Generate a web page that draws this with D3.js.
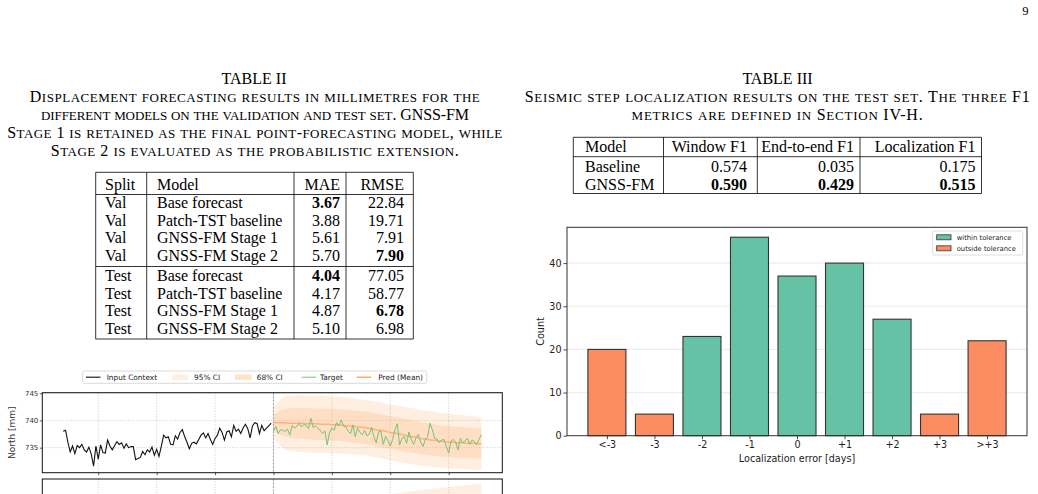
<!DOCTYPE html>
<html><head><meta charset="utf-8">
<script src="https://cdn.jsdelivr.net/npm/d3@7"></script>
<style>body{margin:0;background:#fff} svg{display:block}</style>
</head><body><svg id="c" width="1038" height="494"></svg>
<script>
// ---------------- data ----------------
const pageNumber = "9";

const t2Title = "TABLE II";
const t2Caption = [
  "Displacement forecasting results in millimetres for the",
  "different models on the validation and test set. GNSS-FM",
  "Stage 1 is retained as the final point-forecasting model, while",
  "Stage 2 is evaluated as the probabilistic extension."
];
const t2Header = ["Split", "Model", "MAE", "RMSE"];
const t2Split = ["Val", "Val", "Val", "Val", "Test", "Test", "Test", "Test"];
const t2Model = ["Base forecast", "Patch-TST baseline", "GNSS-FM Stage 1", "GNSS-FM Stage 2",
                 "Base forecast", "Patch-TST baseline", "GNSS-FM Stage 1", "GNSS-FM Stage 2"];
const t2MAE = [3.67, 3.88, 5.61, 5.70, 4.04, 4.17, 4.87, 5.10];
const t2RMSE = [22.84, 19.71, 7.91, 7.90, 77.05, 58.77, 6.78, 6.98];

const t3Title = "TABLE III";
const t3Caption = [
  "Seismic step localization results on the test set. The three F1",
  "metrics are defined in Section IV-H."
];
const t3Header = ["Model", "Window F1", "End-to-end F1", "Localization F1"];
const t3Model = ["Baseline", "GNSS-FM"];
const t3Window = [0.574, 0.590];
const t3E2E = [0.035, 0.429];
const t3Loc = [0.175, 0.515];

const errCategories = ["<-3", "-3", "-2", "-1", "0", "+1", "+2", "+3", ">+3"];
const errCounts = [20, 5, 23, 46, 37, 40, 27, 5, 22];
const errWithin = [false, false, true, true, true, true, true, false, false];
const countTicks = [0, 10, 20, 30, 40];
const barLegend = ["within tolerance", "outside tolerance"];

const contextNorth = [
  738.0, 738.2, 736.0, 734.2, 735.3, 733.9, 735.4, 735.0, 735.6, 734.6,
  734.2, 735.1, 733.8, 731.6, 735.3, 732.9, 735.5, 734.1, 734.0, 736.4,
  735.3, 734.6, 735.4, 736.1, 735.6, 735.9, 734.9, 735.7, 735.0, 735.2,
  735.2, 732.8, 733.0, 733.2, 734.3, 733.7, 734.6, 734.2, 735.1, 733.6,
  734.7, 733.4, 735.3, 737.3, 736.8, 737.0, 735.6, 735.5, 737.2, 736.6,
  737.8, 738.3, 737.0, 736.0, 734.8, 735.8, 736.0, 735.7, 736.5, 737.3,
  737.7, 736.8, 737.6, 736.5, 735.6, 736.7, 737.3, 738.6, 737.8, 736.4,
  737.9, 738.1, 737.0, 739.1, 738.0, 738.4, 737.6, 738.6, 739.3, 738.5,
  736.8, 739.0, 739.6, 739.4, 737.6, 739.1, 738.1, 738.6, 739.0, 739.5
];
const targetNorth = [
  738.0, 738.9, 737.6, 738.3, 738.2, 738.0, 738.4, 737.3, 739.1, 738.6,
  738.9, 739.5, 738.8, 739.3, 739.1, 738.5, 740.4, 738.7, 739.0, 738.6,
  738.2, 737.6, 738.1, 735.5, 737.8, 738.6, 738.2, 739.6, 739.0, 740.1,
  739.0, 738.8, 738.0, 737.6, 739.2, 737.0, 738.6, 737.8, 737.4, 738.2,
  737.2, 737.5, 738.7, 737.0, 735.9, 737.9, 738.0, 735.6, 737.1, 736.3,
  735.3, 736.5, 738.3, 739.4, 735.5, 736.7, 737.0, 735.8, 737.9, 736.5,
  735.6, 736.8, 737.4, 736.0, 735.2, 736.5, 737.0, 739.5, 738.3, 736.7,
  736.6, 735.9, 736.4, 736.5, 735.2, 734.0, 736.2, 736.5, 736.0, 734.6,
  736.7, 735.9, 736.2, 736.7, 735.6, 736.4, 736.1, 735.6, 736.5, 737.4
];
const predMeanNorth = [
  739.6, 739.6, 739.6, 739.6, 739.6, 739.6, 739.5, 739.5, 739.5, 739.5,
  739.5, 739.5, 739.5, 739.5, 739.4, 739.4, 739.4, 739.4, 739.4, 739.4,
  739.3, 739.3, 739.3, 739.3, 739.3, 739.2, 739.2, 739.2, 739.1, 739.1,
  739.1, 739.0, 739.0, 739.0, 738.9, 738.9, 738.8, 738.8, 738.7, 738.7,
  738.6, 738.5, 738.5, 738.4, 738.3, 738.2, 738.2, 738.1, 738.0, 737.9,
  737.8, 737.7, 737.7, 737.6, 737.5, 737.4, 737.3, 737.2, 737.1, 737.0,
  737.0, 736.9, 736.8, 736.7, 736.6, 736.6, 736.5, 736.4, 736.4, 736.3,
  736.3, 736.2, 736.2, 736.1, 736.1, 736.0, 736.0, 736.0, 735.9, 735.9,
  735.9, 735.9, 735.8, 735.8, 735.8, 735.8, 735.8, 735.7, 735.7, 735.7
];
const contextStartDay = 0;
const forecastStartDay = 90;
const bandDays = [90, 92, 94, 96, 100, 110, 120, 130, 140, 150, 160, 170, 179];
const ci95HighNorth = [742.3, 743.4, 744.2, 744.6, 744.7, 744.6, 744.3, 743.7, 743.0, 742.2, 741.5, 741.0, 740.6];
const ci95LowNorth  = [736.9, 735.8, 735.0, 734.5, 734.3, 734.0, 733.9, 733.5, 732.7, 731.9, 731.4, 731.1, 730.9];
const ci68HighNorth = [741.0, 741.6, 742.0, 742.2, 742.3, 742.2, 742.0, 741.6, 740.8, 740.0, 739.2, 738.8, 738.5];
const ci68LowNorth  = [738.2, 737.6, 737.2, 736.9, 736.7, 736.4, 736.2, 735.6, 734.8, 734.0, 733.4, 733.1, 733.0];
const ci95HighPanel2 = [2.2, 2.8, 3.2, 3.5, 3.8, 4.4, 5.0, 5.6, 6.2, 7.0, 7.7, 8.3, 8.9];
const ci95LowPanel2  = [-2.2, -2.8, -3.2, -3.5, -3.8, -4.4, -5.0, -5.6, -6.2, -7.0, -7.7, -8.3, -8.9];
const ci68HighPanel2 = [1.0, 1.3, 1.5, 1.7, 1.9, 2.2, 2.6, 3.0, 3.4, 3.9, 4.4, 4.9, 5.3];
const ci68LowPanel2  = [-1.0, -1.3, -1.5, -1.7, -1.9, -2.2, -2.6, -3.0, -3.4, -3.9, -4.4, -4.9, -5.3];
const dayTicks = [15, 40, 65, 90, 115, 140, 165];
const northTicks = [735, 740, 745];
const tsLegend = ["Input Context", "95% CI", "68% CI", "Target", "Pred (Mean)"];

// ---------------- drawing ----------------
const svg = d3.select("#c");
svg.append("rect").attr("width", 1038).attr("height", 494).attr("fill", "#fff");
const serif = "'Liberation Serif','Times New Roman',serif";
const sans = "'DejaVu Sans',sans-serif";

function txt(parent, x, y, s, o = {}) {
  const t = parent.append("text").attr("x", x).attr("y", y).text(s)
    .style("font-family", o.family || serif).style("font-size", (o.size || 16) + "px")
    .attr("fill", o.fill || "#000").attr("text-anchor", o.anchor || "start");
  if (o.bold) t.style("font-weight", "bold");
  return t;
}
// caption line in small capitals, stretched to the measured line width
function scLine(x, y, s, targetW) {
  const t = svg.append("text").attr("x", x).attr("y", y).attr("text-anchor", "middle")
    .style("font-family", serif).style("font-size", "16px").attr("fill", "#000");
  const runs = s.match(/[a-z]+|[^a-z]+/g);
  runs.forEach(r => {
    const lower = /^[a-z]/.test(r);
    t.append("tspan").style("font-size", lower ? "13px" : "16px").text(lower ? r.toUpperCase() : r);
  });
  const w = t.node().getComputedTextLength();
  const nch = s.length;
  if (targetW && nch > 1) t.style("letter-spacing", ((targetW - w) / (nch - 1)) + "px");
  return t;
}
function hline(x1, x2, y) {
  svg.append("line").attr("x1", x1).attr("x2", x2).attr("y1", y).attr("y2", y)
    .attr("stroke", "#000").attr("stroke-width", 0.8);
}
function vline(x, y1, y2) {
  svg.append("line").attr("x1", x).attr("x2", x).attr("y1", y1).attr("y2", y2)
    .attr("stroke", "#000").attr("stroke-width", 0.8);
}

txt(svg, 1028.5, 15, pageNumber, {anchor: "end", size: 12.5});

// ---- Table II ----
const t2Widths = [450, 428, 495, 408];
txt(svg, 254, 84, t2Title, {anchor: "middle"});
t2Caption.forEach((l, i) => scLine(255, 102 + 18 * i, l, t2Widths[i]));
{
  const cols = [95.7, 146.7, 294, 346, 413.3];
  const top = 172.3, headLine = 194.5, sep = 266.5, bottom = 339;
  hline(cols[0], cols[4], top); hline(cols[0], cols[4], headLine);
  hline(cols[0], cols[4], sep); hline(cols[0], cols[4], bottom);
  cols.forEach(c => vline(c, top, bottom));
  const headBase = 190;
  txt(svg, 105, headBase, t2Header[0]);
  txt(svg, 157, headBase, t2Header[1]);
  txt(svg, 340, headBase, t2Header[2], {anchor: "end"});
  txt(svg, 404, headBase, t2Header[3], {anchor: "end"});
  const rowBase = [208, 225.6, 243.2, 260.8, 281, 298.5, 316, 333.5];
  const minOf = (arr, sp) => d3.min(arr.filter((v, i) => t2Split[i] === sp));
  t2Split.forEach((sp, i) => {
    const y = rowBase[i];
    txt(svg, 105, y, sp);
    txt(svg, 157, y, t2Model[i]);
    txt(svg, 340, y, t2MAE[i].toFixed(2), {anchor: "end", bold: t2MAE[i] === minOf(t2MAE, sp)});
    txt(svg, 404, y, t2RMSE[i].toFixed(2), {anchor: "end", bold: t2RMSE[i] === minOf(t2RMSE, sp)});
  });
}

// ---- Table III ----
const t3Widths = [505, 291];
txt(svg, 777.5, 84, t3Title, {anchor: "middle"});
t3Caption.forEach((l, i) => scLine(777.5, 102 + 18 * i, l, t3Widths[i]));
{
  const cols = [573.3, 663.5, 757.3, 860, 981.5];
  const top = 137.3, headLine = 156.7, bottom = 193.5;
  hline(cols[0], cols[4], top); hline(cols[0], cols[4], headLine); hline(cols[0], cols[4], bottom);
  cols.forEach(c => vline(c, top, bottom));
  const rights = [null, 747, 854, 975.5];
  const headBase = 152.3;
  txt(svg, 585, headBase, t3Header[0]);
  [1, 2, 3].forEach(k => txt(svg, rights[k], headBase, t3Header[k], {anchor: "end"}));
  const rowBase = [171.7, 190];
  const colsData = [t3Window, t3E2E, t3Loc];
  t3Model.forEach((m, i) => {
    txt(svg, 585, rowBase[i], m);
    colsData.forEach((arr, k) => txt(svg, rights[k + 1], rowBase[i], arr[i].toFixed(3),
      {anchor: "end", bold: arr[i] === d3.max(arr)}));
  });
}

// ---- Bar chart ----
{
  const L = 567, R = 1027, T = 227.3, B = 435.7;
  const n = errCategories.length;
  const bx = d3.scaleLinear().domain([-0.84, n - 1 + 0.84]).range([L, R]);
  const by = d3.scaleLinear().domain([0, 48.3]).range([B, T]);
  const g = svg.append("g");
  g.selectAll("line.grid").data(countTicks.filter(d => d > 0)).join("line")
    .attr("x1", L).attr("x2", R).attr("y1", d => by(d)).attr("y2", d => by(d))
    .attr("stroke", "#ededed").attr("stroke-width", 1.2);
  g.selectAll("rect.bar").data(errCounts).join("rect")
    .attr("x", (d, i) => bx(i - 0.4)).attr("width", bx(0.4) - bx(-0.4))
    .attr("y", d => by(d)).attr("height", d => by(0) - by(d))
    .attr("fill", (d, i) => errWithin[i] ? "#66c2a5" : "#fc8d62")
    .attr("stroke", "#333").attr("stroke-width", 1.1);
  g.append("rect").attr("x", L).attr("y", T).attr("width", R - L).attr("height", B - T)
    .attr("fill", "none").attr("stroke", "#333").attr("stroke-width", 1);
  const yAx = g.append("g").attr("transform", `translate(${L},0)`)
    .call(d3.axisLeft(by).tickValues(countTicks).tickSize(3.5).tickPadding(2));
  const xAx = g.append("g").attr("transform", `translate(0,${B})`)
    .call(d3.axisBottom(bx).tickValues(d3.range(n)).tickFormat(i => errCategories[i]).tickSize(3.5).tickPadding(2));
  [yAx, xAx].forEach(a => {
    a.select(".domain").remove();
    a.selectAll("line").attr("stroke", "#333").attr("stroke-width", 0.9);
    a.selectAll("text").style("font-family", sans).style("font-size", "9.6px").attr("fill", "#222");
  });
  txt(g, (L + R) / 2, 462, "Localization error [days]", {family: sans, size: 9.6, anchor: "middle", fill: "#222"});
  txt(g, 0, 0, "Count", {family: sans, size: 9.6, anchor: "middle", fill: "#222"})
    .attr("transform", `translate(543.5,${(T + B) / 2}) rotate(-90)`);
  const lg = g.append("g");
  lg.append("rect").attr("x", 932.7).attr("y", 231).attr("width", 90).attr("height", 24).attr("rx", 1.5)
    .attr("fill", "#fff").attr("stroke", "#d6d6d6").attr("stroke-width", 0.8);
  barLegend.forEach((s, i) => {
    const y = 237.3 + 11 * i;
    lg.append("rect").attr("x", 936.7).attr("y", y - 2.5).attr("width", 14.3).attr("height", 5)
      .attr("fill", i === 0 ? "#66c2a5" : "#fc8d62").attr("stroke", "#333").attr("stroke-width", 0.8);
    txt(lg, 956.7, y + 2.4, s, {family: sans, size: 6.8, fill: "#222"});
  });
}

// ---- Time series ----
{
  const L = 42.3, R = 502.3, T1 = 392.7, B1 = 472.7, T2 = 479, B2 = 559;
  const tx = d3.scaleLinear().domain([-8.95, 187.95]).range([L, R]);
  const ty = d3.scaleLinear().domain([730.4, 745.1]).range([B1, T1]);
  const ty2 = d3.scaleLinear().domain([-10, 10]).range([B2, T2]);
  const defs = svg.append("defs");
  defs.append("clipPath").attr("id", "cp1").append("rect").attr("x", L).attr("y", T1).attr("width", R - L).attr("height", B1 - T1);
  defs.append("clipPath").attr("id", "cp2").append("rect").attr("x", L).attr("y", T2).attr("width", R - L).attr("height", B2 - T2);
  const bandColor = "#fdae6b";
  const gridStyle = sel => sel.attr("stroke", "#b8b8b8").attr("stroke-width", 0.7).attr("stroke-dasharray", "1,1.6");

  [[T1, B1, "cp1"], [T2, B2, "cp2"]].forEach(([T, B, cp], pi) => {
    const g = svg.append("g");
    const inner = g.append("g").attr("clip-path", `url(#${cp})`);
    inner.selectAll("line.vg").data(dayTicks).join("line")
      .attr("x1", d => tx(d)).attr("x2", d => tx(d)).attr("y1", T).attr("y2", B).call(gridStyle);
    const yS = pi === 0 ? ty : ty2;
    if (pi === 0) {
      inner.selectAll("line.hg").data(northTicks).join("line")
        .attr("x1", L).attr("x2", R).attr("y1", d => ty(d)).attr("y2", d => ty(d)).call(gridStyle);
    }
    const hi95 = pi === 0 ? ci95HighNorth : ci95HighPanel2;
    const lo95 = pi === 0 ? ci95LowNorth : ci95LowPanel2;
    const hi68 = pi === 0 ? ci68HighNorth : ci68HighPanel2;
    const lo68 = pi === 0 ? ci68LowNorth : ci68LowPanel2;
    const area = (lo, hi) => d3.area().curve(d3.curveMonotoneX)
      .x(i => tx(bandDays[i])).y0(i => yS(lo[i])).y1(i => yS(hi[i]))(d3.range(bandDays.length));
    inner.append("path").attr("d", area(lo95, hi95)).attr("fill", bandColor).attr("fill-opacity", 0.2);
    inner.append("path").attr("d", area(lo68, hi68)).attr("fill", bandColor).attr("fill-opacity", 0.25);
    inner.append("line").attr("x1", tx(forecastStartDay)).attr("x2", tx(forecastStartDay)).attr("y1", T).attr("y2", B)
      .attr("stroke", "#8c8c8c").attr("stroke-width", 0.8).attr("stroke-dasharray", "2,1.5");
    if (pi === 0) {
      const line = d3.line().x(d => tx(d[0])).y(d => ty(d[1]));
      inner.append("path").attr("d", line(contextNorth.map((v, i) => [contextStartDay + i, v])))
        .attr("fill", "none").attr("stroke", "#111").attr("stroke-width", 1.1);
      inner.append("path").attr("d", line(predMeanNorth.map((v, i) => [forecastStartDay + i, v])))
        .attr("fill", "none").attr("stroke", "#fdae6b").attr("stroke-opacity", 0.9).attr("stroke-width", 1.5);
      inner.append("path").attr("d", line(targetNorth.map((v, i) => [forecastStartDay + i, v])))
        .attr("fill", "none").attr("stroke", "#74c476").attr("stroke-width", 1);
      const yAx = g.append("g").attr("transform", `translate(${L},0)`)
        .call(d3.axisLeft(ty).tickValues(northTicks).tickFormat(d3.format("d")).tickSize(2.5).tickPadding(1.5));
      yAx.select(".domain").remove();
      yAx.selectAll("line").attr("stroke", "#333").attr("stroke-width", 0.8);
      yAx.selectAll("text").style("font-family", sans).style("font-size", "7px").attr("fill", "#333");
      const xAx = g.append("g").attr("transform", `translate(0,${B})`)
        .call(d3.axisBottom(tx).tickValues(dayTicks).tickFormat("").tickSize(2.5));
      xAx.select(".domain").remove();
      xAx.selectAll("line").attr("stroke", "#333").attr("stroke-width", 0.8);
      txt(g, 0, 0, "North [mm]", {family: sans, size: 9, anchor: "middle", fill: "#333"})
        .attr("transform", `translate(15,${(T + B) / 2}) rotate(-90)`);
    }
    g.append("rect").attr("x", L).attr("y", T).attr("width", R - L).attr("height", B - T)
      .attr("fill", "none").attr("stroke", "#111").attr("stroke-width", 1);
  });

  const lg = svg.append("g");
  lg.append("rect").attr("x", 82.7).attr("y", 371).attr("width", 344).attr("height", 12.3).attr("rx", 1.5)
    .attr("fill", "#fff").attr("stroke", "#d0d0d0").attr("stroke-width", 0.8);
  const ly = 377.2;
  const items = [
    {type: "line", x: 86, color: "#111", w: 1.1, tx: 106.7},
    {type: "patch", x: 171.7, op: 0.2, tx: 194},
    {type: "patch", x: 235, op: 0.35, tx: 256.7},
    {type: "line", x: 301.7, color: "#74c476", w: 1, tx: 320},
    {type: "line", x: 356.7, color: "#fdae6b", w: 1.5, tx: 378.3}
  ];
  items.forEach((it, i) => {
    if (it.type === "line") {
      lg.append("line").attr("x1", it.x).attr("x2", it.x + 14.5).attr("y1", ly).attr("y2", ly)
        .attr("stroke", it.color).attr("stroke-width", it.w);
    } else {
      lg.append("rect").attr("x", it.x).attr("y", ly - 2.7).attr("width", 16.6).attr("height", 5.4)
        .attr("fill", bandColor).attr("fill-opacity", it.op);
    }
    txt(lg, it.tx, ly + 2.6, tsLegend[i], {family: sans, size: 7.4, fill: "#222"});
  });
}
</script></body></html>
